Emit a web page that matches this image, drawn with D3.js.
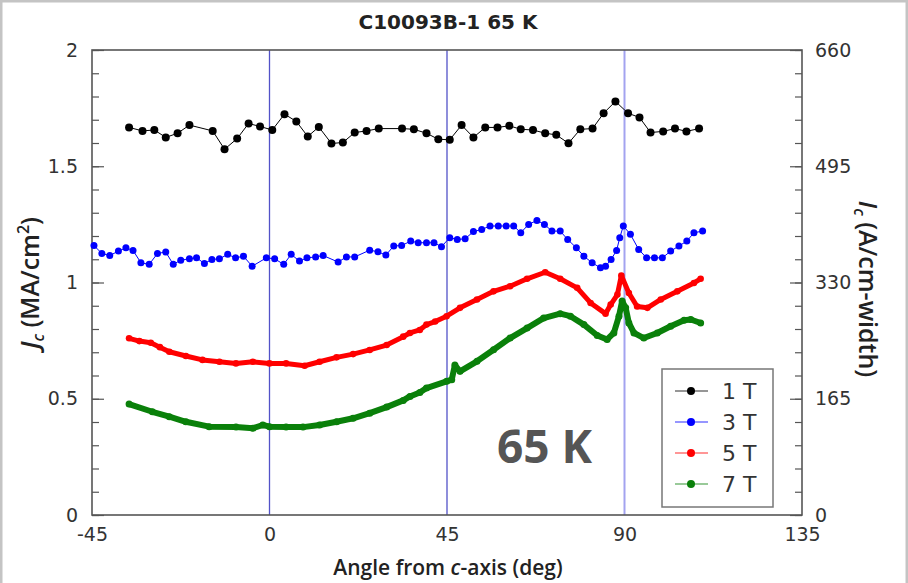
<!DOCTYPE html>
<html>
<head>
<meta charset="utf-8">
<script src="https://cdn.jsdelivr.net/npm/d3@7"></script>
<style>
body { margin: 0; background: #fff; }
svg { display: block; }
.tick text { font-family: "DejaVu Sans", sans-serif; font-size: 19px; fill: #333; }
.tick line { stroke: #555; stroke-width: 1.2; }
.lbl { font-family: "Open Sans", sans-serif; font-weight: 600; fill: #222; }
</style>
</head>
<body>
<svg></svg>
<script>
// 1 T
const ang1 = [-35.6,-32.2,-29.2,-26.3,-23.3,-20.3,-14.4,-11.4,-8.2,-5.3,-2.4,0.7,3.8,6.8,9.7,12.5,15.7,18.6,21.6,24.6,27.7,33.6,36.6,39.8,42.8,45.7,48.7,51.7,54.7,57.8,60.8,63.7,66.8,69.9,72.7,75.8,78.8,81.9,84.7,87.7,90.9,93.8,96.6,99.8,102.8,105.7,108.9];
const jc1 = [1.667,1.652,1.656,1.624,1.642,1.677,1.652,1.573,1.619,1.684,1.671,1.656,1.724,1.693,1.628,1.669,1.598,1.602,1.645,1.652,1.662,1.662,1.659,1.642,1.616,1.614,1.677,1.624,1.667,1.667,1.674,1.659,1.656,1.642,1.635,1.599,1.659,1.662,1.728,1.779,1.728,1.710,1.645,1.650,1.662,1.650,1.662];

// 3 T
const ang3 = [-44.5,-42.5,-40.5,-38.3,-36.4,-34.6,-32.6,-30.5,-28.4,-26.3,-24.4,-22.5,-20.3,-18.5,-16.5,-14.6,-12.7,-10.6,-8.6,-6.6,-4.4,-0.8,1.3,3.6,5.5,7.6,9.5,11.7,13.6,17.4,19.5,21.6,25.4,27.5,29.5,31.5,33.5,35.8,37.7,39.8,41.7,43.6,45.7,47.6,49.6,51.7,53.8,55.9,58.0,60.0,61.9,63.7,65.7,67.8,69.7,71.6,73.7,75.6,77.8,79.7,81.8,83.9,85.2,86.6,88.0,88.8,89.7,91.5,93.6,95.6,97.6,99.6,101.7,103.8,105.8,107.6,109.8];
const jc3 = [1.159,1.125,1.116,1.135,1.149,1.138,1.085,1.078,1.125,1.131,1.078,1.096,1.102,1.106,1.082,1.099,1.102,1.121,1.106,1.113,1.070,1.106,1.102,1.078,1.121,1.092,1.106,1.110,1.116,1.088,1.110,1.110,1.139,1.132,1.118,1.157,1.159,1.178,1.171,1.171,1.171,1.154,1.193,1.185,1.188,1.219,1.228,1.243,1.243,1.243,1.243,1.214,1.250,1.267,1.250,1.221,1.221,1.185,1.149,1.113,1.085,1.063,1.070,1.099,1.138,1.193,1.243,1.207,1.142,1.106,1.106,1.106,1.135,1.157,1.178,1.214,1.221];

// 5 T
const ang5 = [-35.6,-33.0,-30.1,-27.8,-25.4,-21.2,-17.0,-12.7,-8.5,-4.2,0,4.2,8.9,12.7,17.0,21.2,25.4,29.7,33.9,35.6,38.1,39.8,42.0,44.9,48.3,52.6,56.8,61.0,65.3,69.9,73.7,78.0,81.4,85.2,86.5,88.2,89.2,91.1,93.2,95.8,99.2,103.4,107.6,109.3];
const jc5 = [0.760,0.748,0.741,0.722,0.702,0.684,0.667,0.659,0.652,0.659,0.652,0.652,0.642,0.659,0.678,0.692,0.710,0.731,0.767,0.783,0.796,0.819,0.832,0.855,0.891,0.927,0.962,0.984,1.016,1.044,1.016,0.977,0.912,0.866,0.905,0.948,1.030,0.955,0.897,0.891,0.927,0.962,0.998,1.016];

// 7 T
const ang7 = [-35.6,-29.7,-25.4,-21.2,-15.3,-8.5,-4.2,-1.7,0,4.2,8.5,12.7,17.0,21.2,25.4,29.7,33.9,35.6,38.1,39.8,44.9,46.2,47.0,48.3,52.6,56.8,61.0,65.3,69.5,73.7,76.3,79.7,83.1,85.6,87.3,88.6,89.4,90.3,91.1,92.4,94.9,98.3,101.7,105.1,106.8,109.3];
const jc7 = [0.477,0.444,0.423,0.401,0.380,0.378,0.373,0.387,0.380,0.378,0.378,0.387,0.401,0.416,0.438,0.464,0.493,0.510,0.527,0.546,0.575,0.582,0.645,0.618,0.661,0.711,0.761,0.804,0.847,0.866,0.855,0.819,0.772,0.755,0.783,0.855,0.920,0.891,0.826,0.783,0.761,0.783,0.812,0.838,0.841,0.826];

const seriesNames = ["1 T", "3 T", "5 T", "7 T"];
const seriesColors = ["#000000", "#0000ff", "#ff0000", "#0a800a"];
const refAngles = [0, 45, 90];
const xTicks = [-45, 0, 45, 90, 135];
const yTicks = [0, 0.5, 1, 1.5, 2];
const y2Ticks = [0, 165, 330, 495, 660];

const W = 908, H = 583;
const svg = d3.select("svg").attr("width", W).attr("height", H);

// window frame around the screenshot
svg.append("rect").attr("x", 1).attr("y", 1).attr("width", W - 2).attr("height", H + 5)
	.attr("fill", "none").attr("stroke", "#c4c4c4").attr("stroke-width", 3);

const plot = { l: 92, r: 802, t: 50, b: 515 };
const x = d3.scaleLinear().domain([-45, 135]).range([plot.l, plot.r]);
const y = d3.scaleLinear().domain([0, 2]).range([plot.b, plot.t]);
const y2 = d3.scaleLinear().domain([0, 660]).range([plot.b, plot.t]);

// reference lines at 0, 45, 90 deg
svg.selectAll(".ref").data(refAngles).join("line")
	.attr("x1", d => x(d)).attr("x2", d => x(d))
	.attr("y1", plot.t).attr("y2", plot.b)
	.attr("stroke", d => d == 90 ? "#a3a3f0" : "#5252c8")
	.attr("stroke-width", d => d == 90 ? 2 : 1.3);

// axes
svg.append("g").attr("transform", `translate(${plot.l},0)`)
	.call(d3.axisLeft(y).tickValues(yTicks).tickFormat(d => String(d)).tickSize(-12).tickPadding(14));
svg.append("g").attr("transform", `translate(${plot.l},0)`)
	.call(d3.axisLeft(y).tickValues(d3.range(0, 2.01, 0.1)).tickSize(-7).tickFormat(""));
svg.append("g").attr("transform", `translate(${plot.r},0)`)
	.call(d3.axisRight(y2).tickValues(y2Ticks).tickSize(-12).tickPadding(13));
svg.append("g").attr("transform", `translate(${plot.r},0)`)
	.call(d3.axisRight(y2).tickValues(d3.range(0, 661, 33)).tickSize(-7).tickFormat(""));
svg.append("g").attr("transform", `translate(0,${plot.b})`)
	.call(d3.axisBottom(x).tickValues(xTicks).tickFormat(d => String(d)).tickSize(0).tickPadding(13));
svg.selectAll(".domain").remove();

svg.append("rect")
	.attr("x", plot.l).attr("y", plot.t)
	.attr("width", plot.r - plot.l).attr("height", plot.b - plot.t)
	.attr("fill", "none").attr("stroke", "#555").attr("stroke-width", 1.6);

// series
const series = [
	{ a: ang1, v: jc1, lw: 1, r: 4 },
	{ a: ang3, v: jc3, lw: 1, r: 3.5 },
	{ a: ang5, v: jc5, lw: 5, r: 3.3 },
	{ a: ang7, v: jc7, lw: 6, r: 3.5 },
];
const line = d3.line().x(d => x(d[0])).y(d => y(d[1]));

series.forEach((s, i) => {
	const pts = s.a.map((a, j) => [a, s.v[j]]);
	svg.append("path").datum(pts)
		.attr("d", line)
		.attr("fill", "none")
		.attr("stroke", seriesColors[i])
		.attr("stroke-width", s.lw)
		.attr("stroke-linejoin", "round")
		.attr("stroke-linecap", "round");
	svg.append("g").selectAll("circle").data(pts).join("circle")
		.attr("cx", d => x(d[0])).attr("cy", d => y(d[1]))
		.attr("r", s.r).attr("fill", seriesColors[i]);
});

// title
svg.append("text")
	.attr("x", 448).attr("y", 29)
	.attr("text-anchor", "middle")
	.style("font-family", "DejaVu Sans, sans-serif")
	.style("font-weight", "bold").style("font-size", "20px").style("fill", "#222")
	.text("C10093B-1 65 K");

// axis titles
const xl = svg.append("text").attr("class", "lbl").style("font-size", "21px")
	.attr("x", 448).attr("y", 575).attr("text-anchor", "middle");
xl.append("tspan").text("Angle from ");
xl.append("tspan").style("font-style", "italic").text("c");
xl.append("tspan").text("-axis (deg)");

const yl = svg.append("text").attr("class", "lbl").style("font-size", "25px")
	.attr("transform", "translate(39,283) rotate(-90)").attr("text-anchor", "middle");
yl.append("tspan").style("font-style", "italic").text("J");
yl.append("tspan").style("font-style", "italic").style("font-size", "16px").attr("dy", 5).text("c");
yl.append("tspan").attr("dy", -5).text(" (MA/cm");
yl.append("tspan").style("font-size", "16px").attr("dy", -10).text("2");
yl.append("tspan").attr("dy", 10).text(")");

const yr = svg.append("text").attr("class", "lbl").style("font-size", "25px")
	.attr("transform", "translate(859,289) rotate(90)").attr("text-anchor", "middle");
yr.append("tspan").style("font-style", "italic").text("I");
yr.append("tspan").style("font-style", "italic").style("font-size", "16px").attr("dy", 5).text("c");
yr.append("tspan").attr("dy", -5).text(" (A/cm-width)");

// big temperature label
svg.append("text")
	.attr("x", 497).attr("y", 463)
	.style("font-family", "Open Sans, sans-serif")
	.style("font-weight", "bold").style("font-size", "46px").style("fill", "#555")
	.text("65 K");

// legend
const lg = svg.append("g").attr("transform", "translate(662,369)");
lg.append("rect").attr("width", 111).attr("height", 138)
	.attr("fill", "#fff").attr("stroke", "#777").attr("stroke-width", 1.5);
const rows = lg.selectAll(".row").data(seriesNames).join("g")
	.attr("transform", (d, i) => `translate(0,${22 + i * 31})`);
rows.append("line").attr("x1", 13).attr("x2", 46)
	.attr("stroke", (d, i) => seriesColors[i]).attr("stroke-opacity", 0.55).attr("stroke-width", 1.5);
rows.append("circle").attr("cx", 29).attr("r", 4).attr("fill", (d, i) => seriesColors[i]);
rows.append("text").attr("x", 60).attr("y", 8)
	.style("font-family", "DejaVu Sans, sans-serif").style("font-size", "22px").style("fill", "#333")
	.text(d => d);
</script>
</body>
</html>
